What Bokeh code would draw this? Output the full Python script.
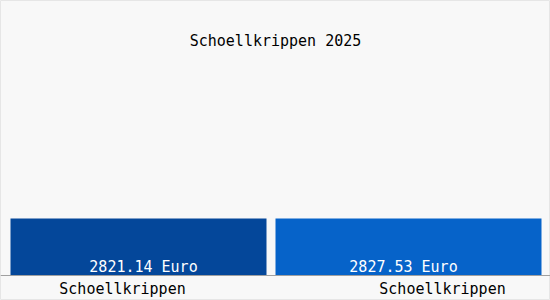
from bokeh.plotting import figure
from bokeh.models import ColumnDataSource, Span, Label
from bokeh.core.properties import value
from bokeh.embed import file_html
from bokeh.resources import INLINE

title = "Schoellkrippen 2025"
categories = ["Schoellkrippen", "Schoellkrippen"]
values = [2821.14, 2827.53]
value_labels = ["2821.14 Euro", "2827.53 Euro"]
colors = ["#04479a", "#0663c9"]

FONT = "DejaVu Sans Mono"

ppx = 270.0
idx = list(range(len(values)))
src = ColumnDataSource(dict(
    x=idx, top=values, color=colors, vlab=value_labels, cat=categories,
    w=[256 / ppx, 266 / ppx],
    vx_off=[5, -5], cx_off=[-16, 34],
))

x0 = -138.0 / ppx
x1 = (550 - 138.0) / ppx
upp = 2824.0 / 57.0
y_top = 275 * upp
y_bot = -25 * upp

p = figure(width=550, height=300, x_range=(x0, x1), y_range=(y_bot, y_top),
           min_border=0, toolbar_location=None, output_backend="svg")
p.axis.visible = False
p.grid.visible = False
p.background_fill_color = "#f8f8f8"
p.border_fill_color = "#f8f8f8"
p.outline_line_color = "#e6e6e6"

p.vbar(x="x", top="top", bottom=0, width="w", color="color", line_color=None, source=src)

p.add_layout(Span(location=0, dimension="width", line_color="#a0a0a0", line_width=1))

p.text(x="x", y=0, text="vlab", x_offset="vx_off", y_offset=0, source=src,
       text_font=value(FONT), text_font_size="15px", text_color="white",
       text_align="center", text_baseline="bottom")
p.text(x="x", y=0, text="cat", x_offset="cx_off", y_offset=13, source=src,
       text_font=value(FONT), text_font_size="15px", text_color="black",
       text_align="center", text_baseline="middle")

p.add_layout(Label(x=275, y=300 - 40, x_units="screen", y_units="screen", text=title,
                   text_font=FONT, text_font_size="15px", text_color="black",
                   text_align="center", text_baseline="middle"))

open("out.html", "w").write(file_html(p, INLINE))
